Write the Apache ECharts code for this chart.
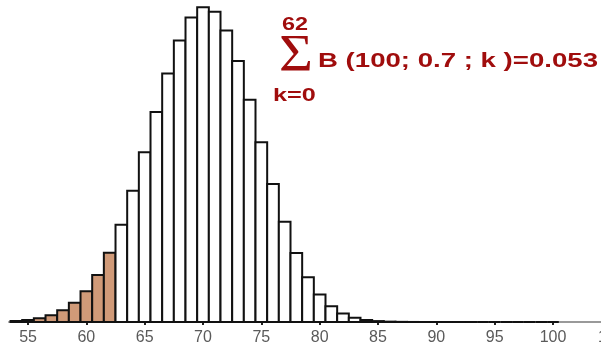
<!DOCTYPE html>
<html>
<head>
<meta charset="utf-8">
<script src="https://cdn.jsdelivr.net/npm/echarts@6/dist/echarts.min.js"></script>
<style>
  html, body { margin: 0; padding: 0; background: #fff; }
  #echarts { width: 601px; height: 348px; }
</style>
</head>
<body>
<div id="echarts"></div>
<script>
// B(100; 0.7; k)
const ks = [54, 55, 56, 57, 58, 59, 60, 61, 62, 63, 64, 65, 66, 67, 68, 69, 70,
	71, 72, 73, 74, 75, 76, 77, 78, 79, 80, 81, 82, 83, 84, 85, 86, 87, 88, 89, 90,
	91, 92, 93, 94, 95, 96, 97, 98, 99, 100];
const probs = [0.00028, 0.00055, 0.00103, 0.00185, 0.00321, 0.00533, 0.00849, 0.01299, 0.01907,
	0.02684, 0.0362, 0.04678, 0.05788, 0.06854, 0.07761, 0.08398, 0.08678,
	0.08556, 0.08041, 0.07197, 0.06127, 0.04956, 0.03804, 0.02767, 0.01904, 0.01237, 0.00758,
	0.00437, 0.00236, 0.00119, 0.00056, 0.00025, 0.0001, 0.00004, 0.00001, 0.000004, 0.000001,
	0.0000003, 0.0000001, 0, 0, 0, 0, 0, 0, 0, 0];
const cutoff = 62;
const tickLabels = [50, 55, 60, 65, 70, 75, 80, 85, 90, 95, 100, 105];

const RED = "#a00d0d";
const FONT = '"Liberation Sans", Arial, sans-serif';

const myChart = echarts.init(document.getElementById("echarts"), null, {
	renderer: "canvas",
	width: 601,
	height: 348,
});

// each bar spans k-0.5 .. k+0.5 on the x axis
const renderBar = (params, api) => {
	const k = api.value(0);
	const topLeft = api.coord([k - 0.5, api.value(1)]);
	const bottomRight = api.coord([k + 0.5, 0]);
	return {
		type: "rect",
		shape: {
			x: topLeft[0],
			y: topLeft[1],
			width: bottomRight[0] - topLeft[0],
			height: bottomRight[1] - topLeft[1],
		},
		style: {
			fill: k <= cutoff ? "#d09a78" : "#ffffff",
			stroke: "#111",
			lineWidth: 2,
		},
	};
};

const option = {
	animation: false,
	grid: [
		{ left: -30.3, right: -10.3, top: 0, bottom: 26, outerBoundsMode: "none", containLabel: false },
		{ left: 9, right: 0, top: 0, bottom: 26, outerBoundsMode: "none" },
	],
	xAxis: [
		{
			type: "value",
			min: tickLabels[0],
			max: tickLabels[tickLabels.length - 1],
			interval: 5,
			axisLine: { show: false },
			axisTick: { show: true, length: 3, lineStyle: { color: "#222", width: 2 } },
			axisLabel: {
				margin: 8,
				color: "#5a5a5a",
				fontSize: 16,
				fontFamily: FONT,
				showMinLabel: true,
				showMaxLabel: true,
			},
			splitLine: { show: false },
		},
		{
			type: "value",
			gridIndex: 1,
			min: 0,
			max: 1,
			axisLine: { show: true, lineStyle: { color: "#999", width: 2 } },
			axisTick: { show: false },
			axisLabel: { show: false },
			splitLine: { show: false },
		},
	],
	yAxis: [
		{ type: "value", min: 0, max: 0.0888, show: false },
		{ type: "value", gridIndex: 1, show: false },
	],
	series: [
		{
			type: "custom",
			renderItem: renderBar,
			clip: false,
			encode: { x: 0, y: 1 },
			data: ks.map((k, i) => [k, probs[i]]),
		},
	],
	graphic: [
		{
			type: "text", x: 282, y: 25, scaleX: 1.3,
			style: { text: "62", font: "bold 18px " + FONT, fill: RED, verticalAlign: "middle" },
		},
		{
			type: "text", x: 279, y: 57, scaleX: 1.12,
			style: { text: "Σ", font: '52px "Liberation Serif", serif', fill: RED, verticalAlign: "middle" },
		},
		{
			type: "text", x: 273, y: 96, scaleX: 1.4,
			style: { text: "k=0", font: "bold 18px " + FONT, fill: RED, verticalAlign: "middle" },
		},
		{
			type: "text", x: 318, y: 61, scaleX: 1.38,
			style: { text: "B (100; 0.7 ; k )=0.053", font: "bold 20px " + FONT, fill: RED, verticalAlign: "middle" },
		},
	],
};
myChart.setOption(option);
</script>
</body>
</html>
